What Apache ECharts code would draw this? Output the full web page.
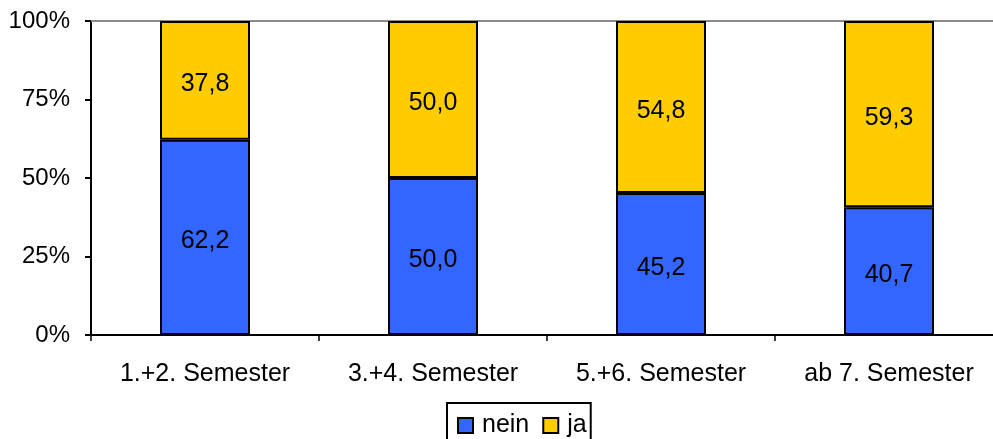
<!DOCTYPE html>
<html>
<head>
<meta charset="utf-8">
<script src="https://cdn.jsdelivr.net/npm/echarts@6/dist/echarts.min.js"></script>
<style>
html,body{margin:0;padding:0;background:#fff;overflow:hidden;}
/* the plot area runs a little past the right edge of the window */
#c{width:1003px;height:439px;}
</style>
</head>
<body>
<div id="c"></div>
<script>
// Semester groups and answer shares (percent)
const categories = ['1.+2. Semester', '3.+4. Semester', '5.+6. Semester', 'ab 7. Semester'];
const neinValues = [62.2, 50.0, 45.2, 40.7];
const jaValues = [37.8, 50.0, 54.8, 59.3];
const yTicks = [0, 25, 50, 75, 100];

const chart = echarts.init(document.getElementById('c'), null, {renderer: 'canvas'});
const fmt = p => p.value.toFixed(1).replace('.', ',');
const font = 'Liberation Sans, Arial, sans-serif';

chart.setOption({
  animation: false,
  backgroundColor: '#fff',
  grid: {left: 91, right: 0, top: 21, bottom: 104, containLabel: false},
  legend: {
    data: ['nein', 'ja'],
    left: 447, top: 403,
    borderColor: '#000', borderWidth: 2,
    padding: [10, 4, 20, 10],
    itemGap: 13,
    itemWidth: 15, itemHeight: 15,
    icon: 'rect',
    itemStyle: {borderColor: '#000', borderWidth: 2},
    textStyle: {fontFamily: font, fontSize: 25, color: '#000', padding: [0, 0, 0, 4]}
  },
  xAxis: [{
    type: 'category',
    data: categories,
    axisLine: {lineStyle: {color: '#000', width: 2}},
    axisTick: {show: true, length: 6, lineStyle: {color: '#000', width: 1.5}},
    axisLabel: {fontFamily: font, fontSize: 25, color: '#000', margin: 27},
    splitLine: {show: false}
  }, {
    type: 'category',
    position: 'top',
    data: categories,
    axisLine: {show: true, lineStyle: {color: '#8c8c8c', width: 2}},
    axisTick: {show: false},
    axisLabel: {show: false}
  }],
  yAxis: {
    type: 'value',
    min: yTicks[0], max: yTicks[yTicks.length - 1], interval: 25,
    axisLine: {show: true, lineStyle: {color: '#000', width: 2}},
    axisTick: {show: true, length: 6, lineStyle: {color: '#000', width: 2}},
    axisLabel: {fontFamily: font, fontSize: 24, color: '#000', margin: 21, formatter: v => v + '%'},
    splitLine: {show: false}
  },
  series: [{
    name: 'nein', type: 'bar', stack: 's', data: neinValues,
    barWidth: 90,
    itemStyle: {color: '#3366FF', borderColor: '#000', borderWidth: 2},
    label: {show: true, position: 'inside', offset: [0, 4], formatter: fmt, fontFamily: font, fontSize: 25, color: '#000'}
  }, {
    name: 'ja', type: 'bar', stack: 's', data: jaValues,
    barWidth: 90,
    itemStyle: {color: '#FFCC00', borderColor: '#000', borderWidth: 2},
    label: {show: true, position: 'inside', offset: [0, 4], formatter: fmt, fontFamily: font, fontSize: 25, color: '#000'}
  }]
});
</script>
</body>
</html>
